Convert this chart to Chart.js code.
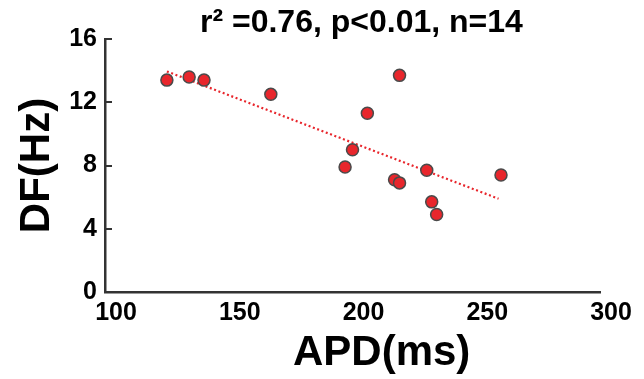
<!DOCTYPE html>
<html>
<head>
<meta charset="utf-8">
<script src="https://cdn.jsdelivr.net/npm/chart.js@4.4.1/dist/chart.umd.min.js"></script>
<style>
  html, body { margin: 0; padding: 0; background: #fff; }
  #wrap { width: 644px; height: 379px; }
</style>
</head>
<body>
<div id="wrap"><canvas id="scatterChart"></canvas></div>
<script>
// APD (ms) vs DF (Hz), one point per sample
const apd = [125, 134, 140, 167, 219, 206, 200, 197, 217, 219, 230, 232, 234, 260];
const df = [13.4, 13.6, 13.4, 12.5, 13.7, 11.3, 9.0, 7.9, 7.1, 6.9, 7.7, 5.7, 4.9, 7.4];

// regression line end points
const fitX = [125, 259];
const fitY = [13.95, 5.9];

const xTicks = [100, 150, 200, 250, 300];
const yTicks = [0, 4, 8, 12, 16];

const FONT = "'Liberation Sans', Arial, sans-serif";

const points = apd.map((x, i) => ({ x: x, y: df[i] }));
const fitLine = fitX.map((x, i) => ({ x: x, y: fitY[i] }));

// short tick marks drawn on the inside of the y axis
const innerTicks = {
    id: 'innerTicks',
    afterDraw(chart) {
        const ctx = chart.ctx;
        const yScale = chart.scales.y;
        const left = chart.chartArea.left;
        ctx.save();
        ctx.strokeStyle = '#333';
        ctx.lineWidth = 2;
        yTicks.forEach(v => {
            if (v === 0) return;
            const py = Math.round(yScale.getPixelForValue(v));
            ctx.beginPath();
            ctx.moveTo(left, py);
            ctx.lineTo(left + 7, py);
            ctx.stroke();
        });
        ctx.restore();
    }
};

const ctx = document.getElementById('scatterChart').getContext('2d');
const chart = new Chart(ctx, {
    type: 'scatter',
    data: {
        datasets: [{
            label: 'fit',
            type: 'line',
            data: fitLine,
            borderColor: '#e8262c',
            borderWidth: 2.2,
            borderDash: [2, 2.6],
            pointRadius: 0,
            fill: false,
            order: 2
        }, {
            label: 'DF',
            data: points,
            backgroundColor: '#e8262c',
            borderColor: '#4a4a4a',
            borderWidth: 1.5,
            pointRadius: 6,
            order: 1
        }]
    },
    options: {
        responsive: true,
        maintainAspectRatio: false,
        animation: false,
        layout: { padding: { left: 0, right: 44, top: 0, bottom: 0 } },
        plugins: {
            legend: { display: false },
            tooltip: { enabled: false },
            title: {
                display: true,
                fullSize: false,
                text: '  r\u00B2 =0.76, p<0.01, n=14',
                color: '#000',
                font: { family: FONT, size: 32, weight: 'bold', lineHeight: 1.0 },
                padding: { top: 7, bottom: 0 }
            }
        },
        scales: {
            x: {
                type: 'linear',
                min: 100,
                max: 300,
                afterBuildTicks: s => { s.ticks = xTicks.map(v => ({ value: v })); },
                afterFit: s => { s.height = 87; },
                grid: { display: false, drawTicks: false },
                border: { display: true, color: '#333', width: 2.5 },
                ticks: {
                    color: '#000',
                    padding: 6,
                    labelOffset: 11,
                    font: { family: FONT, size: 25, weight: 'bold' }
                },
                title: {
                    display: true,
                    text: '     APD(ms)',
                    color: '#000',
                    font: { family: FONT, size: 42, weight: 'bold', lineHeight: 1.2 },
                    padding: { top: 0, bottom: 0 }
                }
            },
            y: {
                type: 'linear',
                min: 0,
                max: 16,
                afterBuildTicks: s => { s.ticks = yTicks.map(v => ({ value: v })); },
                afterFit: s => { s.width = 105; },
                grid: { display: false, drawTicks: false },
                border: { display: true, color: '#333', width: 2.5 },
                ticks: {
                    color: '#000',
                    padding: 8,
                    font: { family: FONT, size: 25, weight: 'bold' }
                },
                title: {
                    display: true,
                    text: 'DF(Hz)',
                    color: '#000',
                    font: { family: FONT, size: 42, weight: 'bold', lineHeight: 1.2 },
                    padding: { top: 12, bottom: 0 }
                }
            }
        }
    },
    plugins: [innerTicks]
});
</script>
</body>
</html>
